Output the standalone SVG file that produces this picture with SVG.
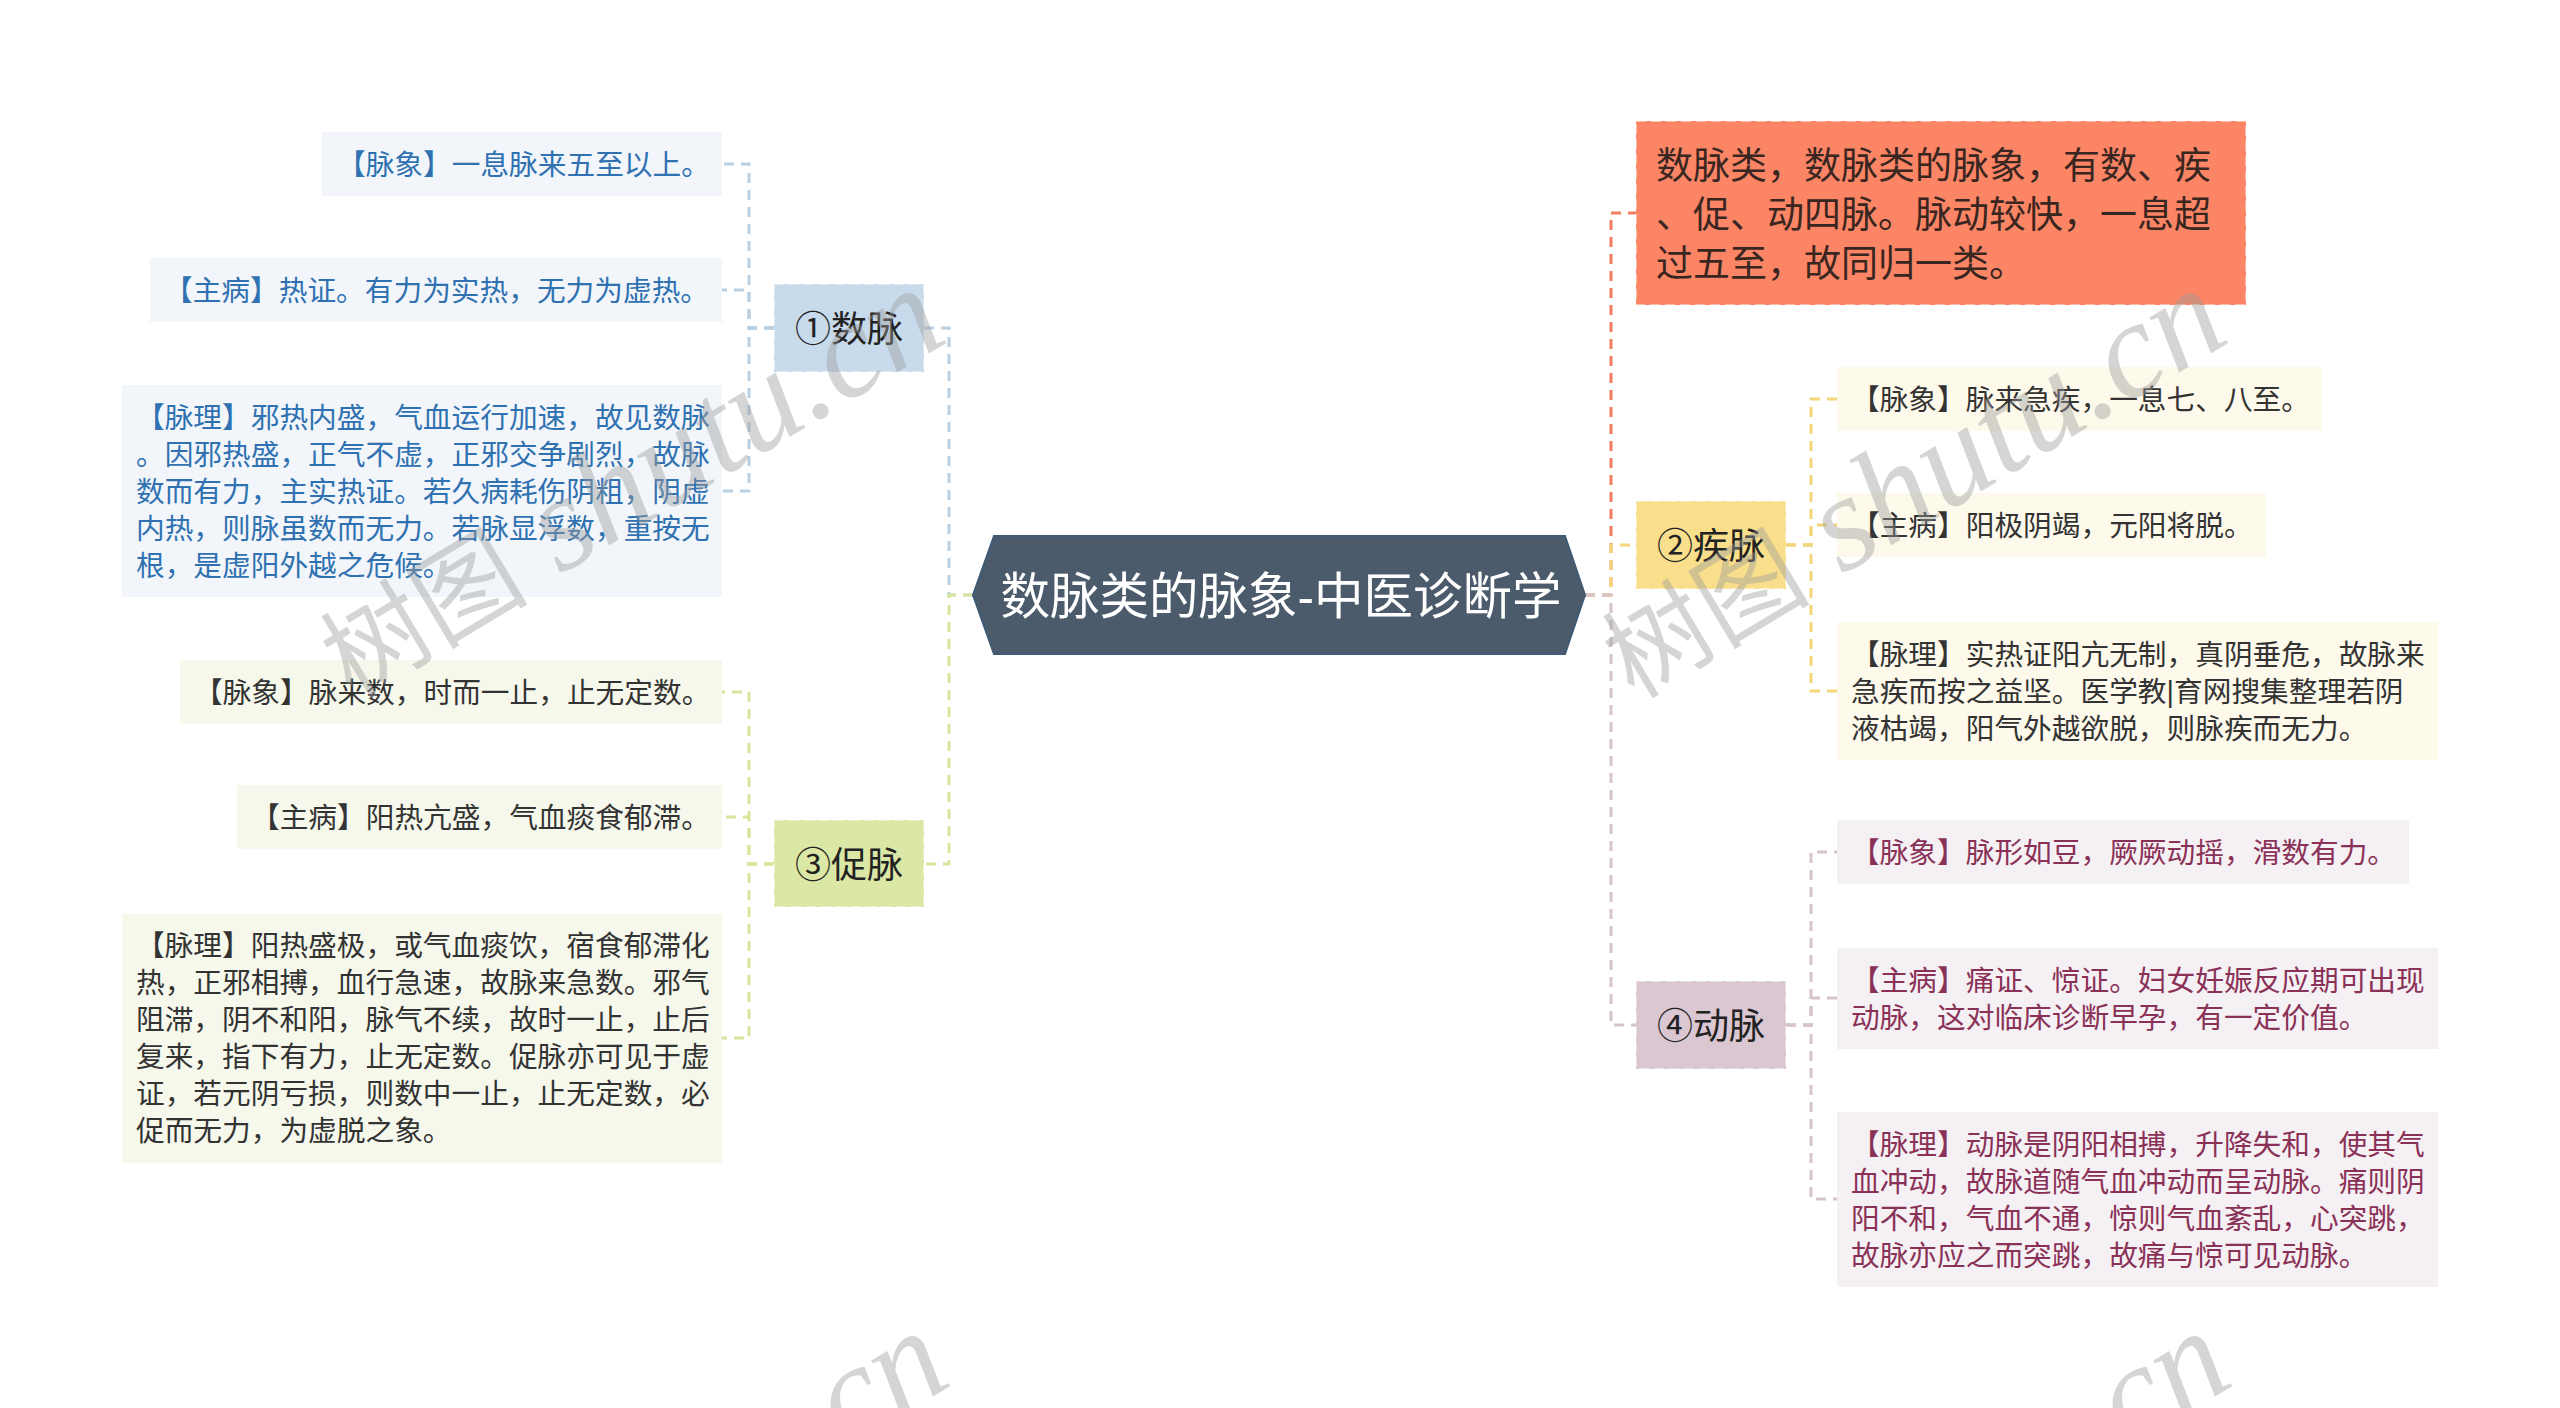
<svg xmlns="http://www.w3.org/2000/svg" width="2560" height="1408" viewBox="0 0 2560 1408">
<defs>
<style>
text{font-family:'Liberation Sans','Noto Sans CJK SC',sans-serif;}
.leaf{font-size:28.7px;dominant-baseline:central;}
.br{font-size:36px;fill:#222;text-anchor:middle;dominant-baseline:central;}
.bl{stroke:#ffffff;stroke-opacity:.45;stroke-width:2;stroke-dasharray:10 5;}
.c{fill:none;stroke-width:3;stroke-dasharray:10 7;}
.cb{stroke:#b9cfe2;} .cg{stroke:#d6e69c;} .cy{stroke:#f3d67a;} .cp{stroke:#d6c4cd;} .cr{stroke:#ef7d5f;}
.tb{fill:#2f71b1;} .tk{fill:#333333;} .tp{fill:#8a3157;}
.wm{fill:#9a9a9a;fill-opacity:.42;}
</style>
<g id="wmk">
<text class="wm" transform="translate(352,700) rotate(-31)"><tspan style="font-family:'Noto Sans CJK SC',sans-serif" font-size="104">树图</tspan><tspan style="font-family:'Liberation Serif',serif;font-style:italic" font-size="136"> shutu.cn</tspan></text>
</g>
</defs>
<rect width="2560" height="1408" fill="#ffffff"/>

<g id="connectors">
<path class="c cb" d="M973,595 H949 V328 H924"/>
<path class="c cg" d="M973,595 H949 V864 H924"/>
<path class="c cb" d="M774,328 H749 V164 H722"/>
<path class="c cb" d="M774,328 H749 V290 H722"/>
<path class="c cb" d="M774,328 H749 V491 H722"/>
<path class="c cg" d="M774,864 H749 V692 H722"/>
<path class="c cg" d="M774,864 H749 V817 H722"/>
<path class="c cg" d="M774,864 H749 V1038 H722"/>
<path class="c cr" d="M1585,595 H1611 V213 H1636"/>
<path class="c cy" d="M1585,595 H1611 V545 H1636"/>
<path class="c cp" d="M1585,595 H1611 V1025 H1636"/>
<path class="c cy" d="M1786,545 H1811 V399 H1837"/>
<path class="c cy" d="M1786,545 H1811 V525 H1837"/>
<path class="c cy" d="M1786,545 H1811 V691 H1837"/>
<path class="c cp" d="M1786,1025 H1811 V852 H1837"/>
<path class="c cp" d="M1786,1025 H1811 V998 H1837"/>
<path class="c cp" d="M1786,1025 H1811 V1199 H1837"/>
</g>

<g id="root">
<polygon points="973,595 994,536 1565,536 1585,595 1565,654 994,654" fill="#4b5b6b" stroke="#3f5a74" stroke-width="2"/>
<text x="1281" y="596" font-size="49.5" fill="#ffffff" text-anchor="middle" dominant-baseline="central">数脉类的脉象-中医诊断学</text>
</g>

<g id="summary">
<rect x="1636" y="121" width="610" height="184" fill="#fb8565"/>
<rect class="bl" x="1636" y="121" width="610" height="184" fill="none"/>
<text font-size="37" fill="#3a2620" dominant-baseline="central"><tspan x="1656" y="166">数脉类，数脉类的脉象，有数、疾</tspan><tspan x="1656" y="215">、促、动四脉。脉动较快，一息超</tspan><tspan x="1656" y="264">过五至，故同归一类。</tspan></text>
</g>

<g id="b1">
<rect x="774" y="284" width="150" height="88" fill="#c8dbec"/>
<rect class="bl" x="774" y="284" width="150" height="88" fill="none"/>
<text class="br" x="849" y="329">①数脉</text>
</g>
<g id="b1-1">
<rect x="322" y="132" width="400" height="64" fill="#f2f6fa"/>
<text class="leaf tb" x="337" y="165">【脉象】一息脉来五至以上。</text>
</g>
<g id="b1-2">
<rect x="150" y="258" width="572" height="64" fill="#f2f6fa"/>
<text class="leaf tb" x="164" y="291">【主病】热证。有力为实热，无力为虚热。</text>
</g>
<g id="b1-3">
<rect x="122" y="385" width="600" height="212" fill="#f2f6fa"/>
<text class="leaf tb"><tspan x="136" y="418">【脉理】邪热内盛，气血运行加速，故见数脉</tspan><tspan x="136" y="455">。因邪热盛，正气不虚，正邪交争剧烈，故脉</tspan><tspan x="136" y="492">数而有力，主实热证。若久病耗伤阴粗，阴虚</tspan><tspan x="136" y="529">内热，则脉虽数而无力。若脉显浮数，重按无</tspan><tspan x="136" y="566">根，是虚阳外越之危候。</tspan></text>
</g>

<g id="b3">
<rect x="774" y="820" width="150" height="87" fill="#dbe8a5"/>
<rect class="bl" x="774" y="820" width="150" height="87" fill="none"/>
<text class="br" x="849" y="865">③促脉</text>
</g>
<g id="b3-1">
<rect x="180" y="660" width="542" height="64" fill="#f6f8ec"/>
<text class="leaf tk" x="194" y="693">【脉象】脉来数，时而一止，止无定数。</text>
</g>
<g id="b3-2">
<rect x="237" y="785" width="485" height="64" fill="#f6f8ec"/>
<text class="leaf tk" x="251" y="818">【主病】阳热亢盛，气血痰食郁滞。</text>
</g>
<g id="b3-3">
<rect x="122" y="914" width="600" height="249" fill="#f6f8ec"/>
<text class="leaf tk"><tspan x="136" y="946">【脉理】阳热盛极，或气血痰饮，宿食郁滞化</tspan><tspan x="136" y="983">热，正邪相搏，血行急速，故脉来急数。邪气</tspan><tspan x="136" y="1020">阻滞，阴不和阳，脉气不续，故时一止，止后</tspan><tspan x="136" y="1057">复来，指下有力，止无定数。促脉亦可见于虚</tspan><tspan x="136" y="1094">证，若元阴亏损，则数中一止，止无定数，必</tspan><tspan x="136" y="1131">促而无力，为虚脱之象。</tspan></text>
</g>

<g id="b2">
<rect x="1636" y="501" width="150" height="88" fill="#f9de8b"/>
<rect class="bl" x="1636" y="501" width="150" height="88" fill="none"/>
<text class="br" x="1711" y="546">②疾脉</text>
</g>
<g id="b2-1">
<rect x="1837" y="367" width="485" height="64" fill="#fdf9eb"/>
<text class="leaf tk" x="1851" y="400">【脉象】脉来急疾，一息七、八至。</text>
</g>
<g id="b2-2">
<rect x="1837" y="493" width="429" height="64" fill="#fdf9eb"/>
<text class="leaf tk" x="1851" y="526">【主病】阳极阴竭，元阳将脱。</text>
</g>
<g id="b2-3">
<rect x="1837" y="622" width="601" height="138" fill="#fdf9eb"/>
<text class="leaf tk"><tspan x="1851" y="655">【脉理】实热证阳亢无制，真阴垂危，故脉来</tspan><tspan x="1851" y="692">急疾而按之益坚。医学教|育网搜集整理若阴</tspan><tspan x="1851" y="729">液枯竭，阳气外越欲脱，则脉疾而无力。</tspan></text>
</g>

<g id="b4">
<rect x="1636" y="981" width="150" height="88" fill="#dbc7d1"/>
<rect class="bl" x="1636" y="981" width="150" height="88" fill="none"/>
<text class="br" x="1711" y="1026">④动脉</text>
</g>
<g id="b4-1">
<rect x="1837" y="820" width="572" height="64" fill="#f5f0f3"/>
<text class="leaf tp" x="1851" y="853">【脉象】脉形如豆，厥厥动摇，滑数有力。</text>
</g>
<g id="b4-2">
<rect x="1837" y="948" width="601" height="101" fill="#f5f0f3"/>
<text class="leaf tp"><tspan x="1851" y="981">【主病】痛证、惊证。妇女妊娠反应期可出现</tspan><tspan x="1851" y="1018">动脉，这对临床诊断早孕，有一定价值。</tspan></text>
</g>
<g id="b4-3">
<rect x="1837" y="1112" width="601" height="175" fill="#f5f0f3"/>
<text class="leaf tp"><tspan x="1851" y="1145">【脉理】动脉是阴阳相搏，升降失和，使其气</tspan><tspan x="1851" y="1182">血冲动，故脉道随气血冲动而呈动脉。痛则阴</tspan><tspan x="1851" y="1219">阳不和，气血不通，惊则气血紊乱，心突跳，</tspan><tspan x="1851" y="1256">故脉亦应之而突跳，故痛与惊可见动脉。</tspan></text>
</g>

<g id="watermarks">
<use href="#wmk"/>
<use href="#wmk" transform="translate(1282,0)"/>
<use href="#wmk" transform="translate(4,1043)"/>
<use href="#wmk" transform="translate(1286,1043)"/>
</g>
</svg>
